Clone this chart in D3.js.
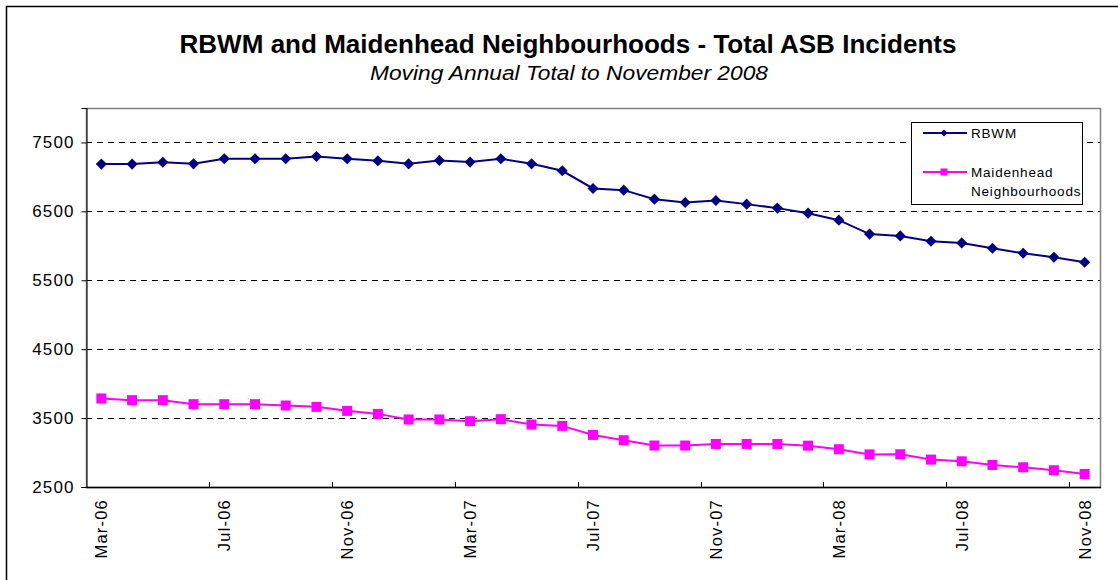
<!DOCTYPE html>
<html lang="en">
<head>
    <meta charset="UTF-8">
    <title>RBWM and Maidenhead Neighbourhoods - Total ASB Incidents</title>
    <script src="https://d3js.org/d3.v7.min.js"></script>
    <style>
        body {
            margin: 0;
            background: #fff;
            font-family: Arial, "Liberation Sans", sans-serif;
        }
        svg text {
            fill: #000;
        }
    </style>
</head>
<body>
    <div id="container"></div>

    <script>
        // Month labels (moving annual total, one per month)
        const months = ['Mar-06', 'Apr-06', 'May-06', 'Jun-06', 'Jul-06', 'Aug-06', 'Sep-06', 'Oct-06',
            'Nov-06', 'Dec-06', 'Jan-07', 'Feb-07', 'Mar-07', 'Apr-07', 'May-07', 'Jun-07',
            'Jul-07', 'Aug-07', 'Sep-07', 'Oct-07', 'Nov-07', 'Dec-07', 'Jan-08', 'Feb-08',
            'Mar-08', 'Apr-08', 'May-08', 'Jun-08', 'Jul-08', 'Aug-08', 'Sep-08', 'Oct-08', 'Nov-08'];

        // Series values
        const rbwm = [7186, 7186, 7212, 7190, 7263, 7263, 7263, 7297, 7263, 7234, 7190, 7239, 7215,
            7263, 7190, 7089, 6832, 6808, 6677, 6628, 6657, 6605, 6547, 6474, 6372, 6170, 6144,
            6067, 6042, 5965, 5892, 5834, 5762];
        const maidenhead = [3785, 3760, 3760, 3702, 3702, 3702, 3683, 3663, 3605, 3561, 3480, 3480,
            3455, 3484, 3407, 3387, 3256, 3179, 3102, 3102, 3125, 3125, 3125, 3100, 3048, 2973,
            2975, 2898, 2873, 2820, 2786, 2743, 2689];

        const yTicks = [2500, 3500, 4500, 5500, 6500, 7500];

        const width = 1118, height = 580;
        const plot = { left: 86, right: 1100, top: 108, bottom: 487 };

        const svg = d3.select('#container').append('svg')
            .attr('width', width)
            .attr('height', height);

        // outer chart border
        svg.append('rect')
            .attr('x', 6.5).attr('y', 6.5)
            .attr('width', 1120).attr('height', 590)
            .attr('fill', 'none')
            .attr('stroke', '#000')
            .attr('stroke-width', 1.5);

        // titles
        svg.append('text')
            .attr('x', 568).attr('y', 53)
            .attr('text-anchor', 'middle')
            .attr('font-size', 25)
            .attr('font-weight', 'bold')
            .attr('textLength', 777)
            .attr('lengthAdjust', 'spacingAndGlyphs')
            .text('RBWM and Maidenhead Neighbourhoods - Total ASB Incidents');

        svg.append('text')
            .attr('x', 569).attr('y', 80)
            .attr('text-anchor', 'middle')
            .attr('font-size', 19.5)
            .attr('font-style', 'italic')
            .attr('textLength', 398)
            .attr('lengthAdjust', 'spacingAndGlyphs')
            .text('Moving Annual Total to November 2008');

        // scales
        const x = d3.scaleBand()
            .domain(months)
            .range([plot.left, plot.right]);

        const y = d3.scaleLinear()
            .domain([2500, 8000])
            .range([plot.bottom, plot.top]);

        const cx = d => x(d) + x.bandwidth() / 2;

        // dashed gridlines
        svg.append('g')
            .selectAll('line')
            .data(yTicks.slice(1))
            .enter()
            .append('line')
            .attr('x1', plot.left).attr('x2', plot.right)
            .attr('y1', d => Math.round(y(d)) + 0.5)
            .attr('y2', d => Math.round(y(d)) + 0.5)
            .attr('stroke', '#000')
            .attr('stroke-dasharray', '6,5');

        // plot area border (grey)
        svg.append('rect')
            .attr('x', plot.left + 0.5).attr('y', plot.top + 0.5)
            .attr('width', plot.right - plot.left).attr('height', plot.bottom - plot.top)
            .attr('fill', 'none')
            .attr('stroke', '#808080')
            .attr('stroke-width', 1.5);

        // y axis
        const yAxis = svg.append('g')
            .attr('transform', `translate(${plot.left + 0.5},0)`)
            .call(d3.axisLeft(y).tickValues(yTicks).tickSize(5).tickPadding(8).tickFormat(d3.format('d')));
        yAxis.select('.domain').attr('stroke', '#000');
        yAxis.selectAll('.tick line').attr('stroke', '#000');
        yAxis.selectAll('text')
            .attr('font-size', 17)
            .attr('font-family', 'Arial, "Liberation Sans", sans-serif')
            .attr('letter-spacing', 1.1)
            .attr('dx', 1);

        // x axis line
        svg.append('line')
            .attr('x1', plot.left).attr('x2', plot.right + 1)
            .attr('y1', plot.bottom + 0.5).attr('y2', plot.bottom + 0.5)
            .attr('stroke', '#000')
            .attr('stroke-width', 1.5);

        // tick marks between categories, every 4 months
        const labelled = months.filter((m, i) => i % 4 === 0);
        svg.append('g')
            .selectAll('line')
            .data(labelled.slice(1))
            .enter()
            .append('line')
            .attr('x1', d => Math.round(x(d)) + 0.5)
            .attr('x2', d => Math.round(x(d)) + 0.5)
            .attr('y1', plot.bottom - 5)
            .attr('y2', plot.bottom)
            .attr('stroke', '#000');

        // x labels rotated
        svg.append('g')
            .selectAll('text')
            .data(labelled)
            .enter()
            .append('text')
            .attr('transform', d => `translate(${cx(d) + 6},499) rotate(-90)`)
            .attr('text-anchor', 'end')
            .attr('font-size', 16.5)
            .attr('letter-spacing', 1.2)
            .text(d => d);

        // lines
        const line = d3.line()
            .x((d, i) => cx(months[i]))
            .y(d => y(d));

        svg.append('path')
            .datum(maidenhead)
            .attr('d', line)
            .attr('fill', 'none')
            .attr('stroke', '#FF00FF')
            .attr('stroke-width', 2);

        svg.append('path')
            .datum(rbwm)
            .attr('d', line)
            .attr('fill', 'none')
            .attr('stroke', '#000080')
            .attr('stroke-width', 2);

        // markers
        const diamond = d3.symbol().type(d3.symbolSquare).size(62);

        svg.append('g')
            .selectAll('rect')
            .data(maidenhead)
            .enter()
            .append('rect')
            .attr('x', (d, i) => cx(months[i]) - 5)
            .attr('y', d => y(d) - 5)
            .attr('width', 10).attr('height', 10)
            .attr('fill', '#FF00FF');

        svg.append('g')
            .selectAll('path')
            .data(rbwm)
            .enter()
            .append('path')
            .attr('d', diamond)
            .attr('transform', (d, i) => `translate(${cx(months[i])},${y(d)}) rotate(45)`)
            .attr('fill', '#000080');

        // legend
        const legend = svg.append('g');
        legend.append('rect')
            .attr('x', 911.5).attr('y', 122.5)
            .attr('width', 171).attr('height', 82)
            .attr('fill', '#fff')
            .attr('stroke', '#000');

        const legendItems = [
            { label: ['RBWM'], color: '#000080', ly: 133, shape: 'diamond' },
            { label: ['Maidenhead', 'Neighbourhoods'], color: '#FF00FF', ly: 172, shape: 'square' }
        ];

        legendItems.forEach(item => {
            legend.append('line')
                .attr('x1', 923).attr('x2', 967)
                .attr('y1', item.ly).attr('y2', item.ly)
                .attr('stroke', item.color)
                .attr('stroke-width', 2);
            if (item.shape === 'diamond') {
                legend.append('path')
                    .attr('d', d3.symbol().type(d3.symbolSquare).size(26))
                    .attr('transform', `translate(944,${item.ly}) rotate(45)`)
                    .attr('fill', item.color);
            } else {
                legend.append('rect')
                    .attr('x', 940.5).attr('y', item.ly - 3.5)
                    .attr('width', 7).attr('height', 7)
                    .attr('fill', item.color);
            }
            item.label.forEach((t, j) => {
                legend.append('text')
                    .attr('x', 971)
                    .attr('y', item.ly + 5 + j * 18.5)
                    .attr('font-size', 13.5)
                    .attr('letter-spacing', 0.8)
                    .text(t);
            });
        });
    </script>
</body>
</html>
